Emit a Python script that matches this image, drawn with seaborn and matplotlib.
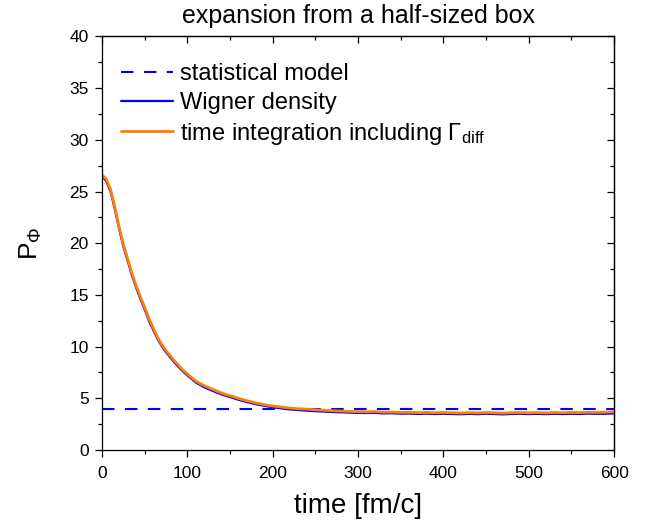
import matplotlib
matplotlib.use("Agg")
import matplotlib.pyplot as plt
import seaborn as sns
import pandas as pd
from matplotlib.ticker import MultipleLocator

# ---------------- data ----------------
times = [0, 5, 10, 15, 20, 25, 30, 35, 40, 45, 50, 55, 60, 65, 70, 75, 80, 85, 90, 95,
         100, 110, 120, 130, 140, 150, 160, 170, 180, 190, 200, 210, 220, 230, 240,
         250, 260, 270, 280, 290, 300, 310, 320, 330, 340, 350, 360, 370, 380, 390,
         400, 410, 420, 430, 440, 450, 460, 470, 480, 490, 500, 510, 520, 530, 540,
         550, 560, 570, 580, 590, 600]

time_integration = [26.6, 26.2, 25.2, 23.5, 21.6, 19.9, 18.5, 17.1, 15.9, 14.8,
                    13.8, 12.7, 11.8, 10.9, 10.2, 9.6, 9.1, 8.6, 8.15, 7.7,
                    7.35, 6.65, 6.2, 5.85, 5.5, 5.25, 4.98, 4.75, 4.55, 4.38,
                    4.25, 4.15, 4.05, 3.98, 3.95, 3.88, 3.84, 3.79, 3.76, 3.72,
                    3.70, 3.68, 3.71, 3.65, 3.66, 3.62, 3.64, 3.60, 3.63, 3.59,
                    3.62, 3.60, 3.57, 3.61, 3.58, 3.62, 3.59, 3.56, 3.60, 3.62,
                    3.59, 3.61, 3.58, 3.62, 3.60, 3.63, 3.61, 3.64, 3.62, 3.65, 3.69]

wigner_density = [26.5, 26.0, 25.0, 23.3, 21.4, 19.7, 18.3, 16.9, 15.7, 14.6,
                  13.6, 12.5, 11.6, 10.75, 10.05, 9.45, 8.95, 8.45, 8.0, 7.58,
                  7.22, 6.52, 6.05, 5.7, 5.37, 5.12, 4.85, 4.63, 4.43, 4.27,
                  4.13, 4.02, 3.92, 3.86, 3.80, 3.75, 3.71, 3.67, 3.64, 3.61,
                  3.58, 3.57, 3.59, 3.53, 3.55, 3.50, 3.52, 3.48, 3.51, 3.47,
                  3.50, 3.48, 3.45, 3.49, 3.46, 3.50, 3.47, 3.44, 3.48, 3.50,
                  3.47, 3.49, 3.46, 3.50, 3.47, 3.50, 3.48, 3.51, 3.49, 3.50, 3.53]

stat_times = [0, 600]
statistical_model = [4.0, 4.0]

labels = ["statistical model", "Wigner density",
          r"time integration including $\Gamma_{\rm diff}$"]
title = "expansion from a half-sized box"
xlabel = "time [fm/c]"
ylabel = r"P$_{\Phi}$"

# ---------------- style ----------------
sns.set_style("ticks")
plt.rcParams["font.family"] = ["Liberation Sans", "DejaVu Sans"]
plt.rcParams["mathtext.fontset"] = "custom"
plt.rcParams["mathtext.rm"] = "Liberation Sans"
plt.rcParams["mathtext.it"] = "Liberation Sans:italic"
plt.rcParams["mathtext.bf"] = "Liberation Sans:bold"
for k in ["text.color", "axes.labelcolor", "xtick.color", "ytick.color",
          "axes.edgecolor"]:
    plt.rcParams[k] = "black"

fig = plt.figure(figsize=(6.54, 5.25), dpi=100)
ax = fig.add_axes([0.156, 0.143, 0.783, 0.7875])

df_w = pd.DataFrame({"t": times, "p": wigner_density})
df_o = pd.DataFrame({"t": times, "p": time_integration})
df_s = pd.DataFrame({"t": stat_times, "p": statistical_model})

sns.lineplot(data=df_s, x="t", y="p", ax=ax, color="#0000FF", lw=1.5,
             label=labels[0])
ax.lines[-1].set_dashes((6, 5))
sns.lineplot(data=df_w, x="t", y="p", ax=ax, color="#0000FF", lw=1.6, label=labels[1])
sns.lineplot(data=df_o, x="t", y="p", ax=ax, color="#FF7F00", lw=2.0, label=labels[2])

ax.set_xlim(0, 600)
ax.set_ylim(0, 40)
ax.xaxis.set_major_locator(MultipleLocator(100))
ax.xaxis.set_minor_locator(MultipleLocator(50))
ax.yaxis.set_major_locator(MultipleLocator(5))
ax.yaxis.set_minor_locator(MultipleLocator(2.5))

for s in ax.spines.values():
    s.set_linewidth(0.9)
    s.set_color("black")

ax.tick_params(which="major", direction="out", length=5, width=0.9,
               labelsize=12.5, colors="black")
ax.tick_params(axis="x", which="major", pad=6.5)
ax.tick_params(axis="y", which="major", pad=4.5)
ax.tick_params(which="minor", direction="out", length=3, width=0.9, colors="black")

# inward ticks on top and right
top = ax.secondary_xaxis("top")
top.xaxis.set_major_locator(MultipleLocator(100))
top.xaxis.set_minor_locator(MultipleLocator(50))
top.tick_params(which="major", direction="in", length=5, width=0.9, labeltop=False)
top.tick_params(which="minor", direction="in", length=3, width=0.9)
top.spines["top"].set_linewidth(0.9)
right = ax.secondary_yaxis("right")
right.yaxis.set_major_locator(MultipleLocator(5))
right.yaxis.set_minor_locator(MultipleLocator(2.5))
right.tick_params(which="major", direction="in", length=5, width=0.9, labelright=False)
right.tick_params(which="minor", direction="in", length=3, width=0.9)
right.spines["right"].set_linewidth(0.9)

ax.set_xlabel(xlabel, fontsize=20, labelpad=9)
ax.set_ylabel(ylabel, fontsize=19, labelpad=18)
ax.set_title(title, fontsize=18, pad=10)

leg = ax.legend(loc="upper left", bbox_to_anchor=(0.037, 0.935), frameon=False,
                fontsize=17, handlelength=2.2, handletextpad=0.3,
                labelspacing=0.28, borderpad=0, borderaxespad=0)

fig.savefig("out.png", dpi=100)
